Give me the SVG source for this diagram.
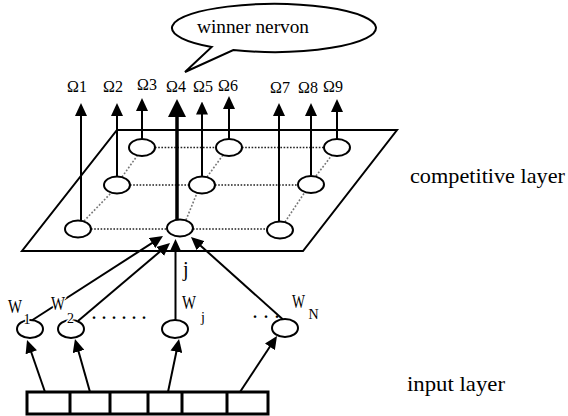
<svg xmlns="http://www.w3.org/2000/svg" width="568" height="416" viewBox="0 0 568 416">
<style>
.ln{stroke:#000;stroke-width:2;fill:none}
.thick{stroke:#000;stroke-width:3.5;fill:none}
.nd{fill:#fff;stroke:#000;stroke-width:2}
.hdot{stroke:#222;stroke-width:1.6;stroke-dasharray:1.6 1.6;fill:none}
.ddot{stroke:#777;stroke-width:1.6;stroke-dasharray:1.8 1.8;fill:none}
.lab{font-family:"Liberation Serif","Times New Roman",serif;fill:#000}
.halo{stroke:#fff;stroke-width:3;paint-order:stroke;stroke-linejoin:round}
</style>
<defs>
<marker id="ah" markerUnits="userSpaceOnUse" markerWidth="13" markerHeight="12" viewBox="0 0 13 12" refX="3" refY="6" orient="auto"><path d="M0,0 L13,6 L0,12 z" fill="#000"/></marker>
<marker id="ahb" markerUnits="userSpaceOnUse" markerWidth="18" markerHeight="18" viewBox="0 0 18 18" refX="4" refY="9" orient="auto"><path d="M0,0 L18,9 L0,18 z" fill="#000"/></marker>
</defs>
<rect width="568" height="416" fill="#fff"/>

<g id="plane">
<polygon points="117,130 397,130 303,251 22,251" class="ln"/>
</g>

<g id="speech-bubble">
<path d="M211.7,47 A102,24 0 1,1 233.3,50 L185,72 Z" fill="#fff" stroke="#000" stroke-width="2" stroke-linejoin="miter"/>
<text class="lab" x="197" y="33" font-size="18" textLength="112" lengthAdjust="spacingAndGlyphs">winner nervon</text>
</g>

<g id="grid">
<line class="hdot" x1="155" y1="147.5" x2="216" y2="147.5"/>
<line class="hdot" x1="242" y1="147.5" x2="324" y2="147.5"/>
<line class="hdot" x1="130" y1="185" x2="189" y2="185"/>
<line class="hdot" x1="215" y1="185" x2="298" y2="185"/>
<line class="hdot" x1="91" y1="229" x2="167" y2="229"/>
<line class="hdot" x1="193" y1="229" x2="267" y2="229"/>
<line class="ddot" x1="84" y1="221" x2="111" y2="193"/>
<line class="ddot" x1="122" y1="177" x2="137" y2="156"/>
<line class="ddot" x1="186" y1="220" x2="197" y2="193"/>
<line class="ddot" x1="207" y1="177" x2="223" y2="155"/>
<line class="ddot" x1="285" y1="222" x2="305" y2="192"/>
<line class="ddot" x1="316" y1="176" x2="332" y2="155"/>
</g>

<g id="connectors">
<line class="ln" x1="81" y1="220.5" x2="81" y2="113" marker-end="url(#ah)"/>
<line class="ln" x1="117" y1="176.5" x2="117" y2="113" marker-end="url(#ah)"/>
<line class="ln" x1="142" y1="139" x2="142" y2="108" marker-end="url(#ah)"/>
<line class="thick" x1="177" y1="220" x2="177" y2="113" marker-end="url(#ahb)"/>
<line class="ln" x1="202" y1="176.5" x2="202" y2="111.5" marker-end="url(#ah)"/>
<line class="ln" x1="229" y1="139" x2="229" y2="106" marker-end="url(#ah)"/>
<line class="ln" x1="279" y1="221.5" x2="279" y2="113" marker-end="url(#ah)"/>
<line class="ln" x1="311" y1="175.5" x2="311" y2="113" marker-end="url(#ah)"/>
<line class="ln" x1="337" y1="139" x2="337" y2="109" marker-end="url(#ah)"/>

<line class="ln" x1="31.7" y1="320.5" x2="154.6" y2="241.4" marker-end="url(#ah)"/>
<line class="ln" x1="78" y1="321" x2="162.4" y2="249.5" marker-end="url(#ah)"/>
<line class="ln" x1="175.5" y1="320" x2="175.5" y2="249" marker-end="url(#ah)"/>
<line class="ln" x1="283" y1="319.5" x2="198.4" y2="243.7" marker-end="url(#ah)"/>

<line class="ln" x1="45" y1="392" x2="30.3" y2="349.5" marker-end="url(#ah)"/>
<line class="ln" x1="90" y1="392" x2="77.7" y2="348.6" marker-end="url(#ah)"/>
<line class="ln" x1="168" y1="392" x2="177" y2="348.8" marker-end="url(#ah)"/>
<line class="ln" x1="240" y1="392" x2="271.5" y2="344.3" marker-end="url(#ah)"/>
</g>

<g id="node-top-left"><ellipse class="nd" cx="142" cy="147.5" rx="13" ry="8.5"/></g>
<g id="node-top-mid"><ellipse class="nd" cx="229" cy="147.5" rx="13" ry="8.5"/></g>
<g id="node-top-right"><ellipse class="nd" cx="337" cy="147.5" rx="13" ry="8.5"/></g>
<g id="node-mid-left"><ellipse class="nd" cx="117" cy="185" rx="13" ry="8.5"/></g>
<g id="node-mid-mid"><ellipse class="nd" cx="202" cy="185" rx="13" ry="8.5"/></g>
<g id="node-mid-right"><ellipse class="nd" cx="311" cy="184.5" rx="13" ry="8.5"/></g>
<g id="node-bot-left"><ellipse class="nd" cx="78" cy="229" rx="13" ry="8.5"/></g>
<g id="node-winner"><ellipse class="nd" cx="180" cy="228" rx="13" ry="8.5"/>
<text class="lab" x="183" y="276" font-size="20">j</text></g>
<g id="node-bot-right"><ellipse class="nd" cx="280" cy="230" rx="13" ry="8.5"/></g>

<g id="output-labels" class="lab" font-size="16" text-anchor="middle">
<text x="77" y="92">Ω1</text>
<text x="113" y="92">Ω2</text>
<text x="147" y="90">Ω3</text>
<text x="176" y="92">Ω4</text>
<text x="203" y="92">Ω5</text>
<text x="228" y="91">Ω6</text>
<text x="280" y="93">Ω7</text>
<text x="308" y="93">Ω8</text>
<text x="333" y="92">Ω9</text>
</g>

<g id="node-w1"><ellipse class="nd" cx="30" cy="329" rx="13" ry="9"/>
<text class="lab" x="8" y="313" font-size="18" textLength="14" lengthAdjust="spacingAndGlyphs">W</text>
<text class="lab halo" x="23.5" y="324" font-size="14">1</text></g>
<g id="node-w2"><ellipse class="nd" cx="71" cy="329" rx="13" ry="9"/>
<text class="lab halo" x="51" y="310" font-size="18" textLength="14" lengthAdjust="spacingAndGlyphs">W</text>
<text class="lab halo" x="67" y="323" font-size="14">2</text></g>
<g id="node-wj"><ellipse class="nd" cx="175" cy="329" rx="13" ry="9"/>
<text class="lab" x="182" y="309" font-size="18" textLength="14" lengthAdjust="spacingAndGlyphs">W</text>
<text class="lab" x="201" y="322" font-size="14">j</text></g>
<g id="node-wn"><ellipse class="nd" cx="285" cy="328" rx="13" ry="9"/>
<text class="lab" x="292" y="308" font-size="18" textLength="13" lengthAdjust="spacingAndGlyphs">W</text>
<text class="lab" x="308.5" y="319" font-size="14">N</text></g>
<text class="lab" x="92" y="319" font-size="16" font-weight="bold" textLength="54" lengthAdjust="spacing">......</text>
<text class="lab" x="253" y="318" font-size="16" font-weight="bold" textLength="26" lengthAdjust="spacing">...</text>

<g id="input-layer">
<rect x="27" y="392" width="241" height="22" fill="#fff" stroke="#000" stroke-width="3"/>
<line x1="70" y1="392" x2="70" y2="414" stroke="#000" stroke-width="3"/>
<line x1="110" y1="392" x2="110" y2="414" stroke="#000" stroke-width="3"/>
<line x1="148" y1="392" x2="148" y2="414" stroke="#000" stroke-width="3"/>
<line x1="182" y1="392" x2="182" y2="414" stroke="#000" stroke-width="3"/>
<line x1="227" y1="392" x2="227" y2="414" stroke="#000" stroke-width="3"/>
</g>

<text class="lab" x="410" y="183" font-size="22" textLength="155" lengthAdjust="spacingAndGlyphs">competitive layer</text>
<text class="lab" x="407" y="391" font-size="22" textLength="98" lengthAdjust="spacingAndGlyphs">input layer</text>
</svg>
